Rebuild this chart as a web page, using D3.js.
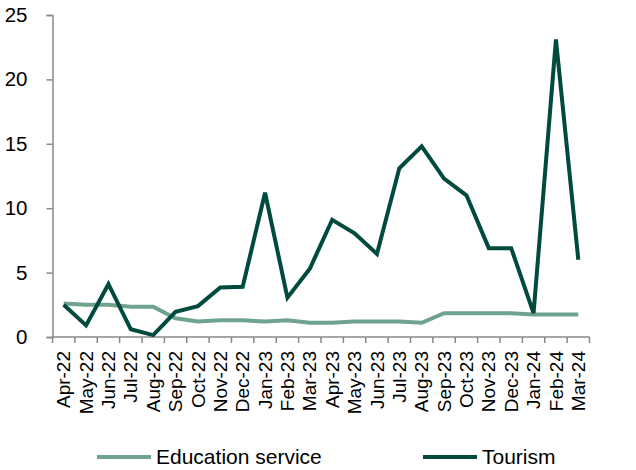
<!DOCTYPE html>
<html>
<head>
<meta charset="utf-8">
<script src="https://cdn.jsdelivr.net/npm/d3@7"></script>
<style>
	body { margin: 0; background: #fff; }
	text { font-family: "Liberation Sans", Arial, sans-serif; fill: #000; }
</style>
</head>
<body>
<div id="chart"></div>
<script>
// months on the category axis
var months = ["Apr-22", "May-22", "Jun-22", "Jul-22", "Aug-22", "Sep-22", "Oct-22", "Nov-22", "Dec-22",
	"Jan-23", "Feb-23", "Mar-23", "Apr-23", "May-23", "Jun-23", "Jul-23", "Aug-23", "Sep-23", "Oct-23",
	"Nov-23", "Dec-23", "Jan-24", "Feb-24", "Mar-24"];

var education = [2.6, 2.5, 2.5, 2.35, 2.35, 1.45, 1.2, 1.3, 1.3, 1.2, 1.3, 1.1,
	1.1, 1.2, 1.2, 1.2, 1.1, 1.85, 1.85, 1.85, 1.85, 1.75, 1.75, 1.75];

var tourism = [2.5, 0.9, 4.1, 0.6, 0.15, 1.95, 2.4, 3.85, 3.9, 11.2, 3.05, 5.3,
	9.1, 8.05, 6.45, 13.1, 14.8, 12.3, 11.0, 6.9, 6.9, 1.85, 23.1, 6.0];

var yTicks = [0, 5, 10, 15, 20, 25];

var width = 636,
	height = 470;

var svg = d3.select("#chart")
	.append("svg")
	.attr("width", width)
	.attr("height", height);

var x = d3.scaleBand()
	.domain(months)
	.range([52.5, 589.5])
	.padding(0);

var y = d3.scaleLinear()
	.domain([0, 25])
	.range([337, 15]);

var axisColor = "#898989";

// y axis
var yAxis = svg.append("g")
	.attr("transform", "translate(52.5,0)")
	.call(d3.axisLeft(y).tickValues(yTicks).tickSize(6).tickPadding(19).tickFormat(d3.format("d")));
yAxis.select(".domain").attr("stroke", axisColor).attr("stroke-width", 1.5);
yAxis.selectAll(".tick line").attr("stroke", axisColor).attr("stroke-width", 1.5);
yAxis.selectAll(".tick text")
	.style("font-size", "20.5px")
	.style("font-family", "'Liberation Sans', Arial, sans-serif")
	.attr("fill", "#000");

// x axis line and ticks between categories
svg.append("line")
	.attr("x1", x.range()[0])
	.attr("x2", x.range()[1])
	.attr("y1", y(0))
	.attr("y2", y(0))
	.attr("stroke", axisColor)
	.attr("stroke-width", 1.5);

var tickPos = months.map(function (m) { return x(m); }).concat([x.range()[1]]);
svg.selectAll("line.xtick")
	.data(tickPos)
	.enter()
	.append("line")
	.attr("class", "xtick")
	.attr("x1", function (d) { return d; })
	.attr("x2", function (d) { return d; })
	.attr("y1", y(0))
	.attr("y2", y(0) + 6)
	.attr("stroke", axisColor)
	.attr("stroke-width", 1.5);

// rotated month labels
svg.selectAll("text.xlabel")
	.data(months)
	.enter()
	.append("text")
	.attr("class", "xlabel")
	.attr("transform", function (d) {
		return "translate(" + (x(d) + x.bandwidth() / 2) + "," + (y(0) + 14) + ") rotate(-90)";
	})
	.attr("text-anchor", "end")
	.attr("dy", "0.35em")
	.style("font-size", "19px")
	.text(function (d) { return d; });

var line = d3.line()
	.x(function (d, i) { return x(months[i]) + x.bandwidth() / 2; })
	.y(function (d) { return y(d); });

var series = [
	{ name: "Education service", values: education, color: "#70a38e" },
	{ name: "Tourism", values: tourism, color: "#004a3e" }
];

svg.selectAll("path.series")
	.data(series)
	.enter()
	.append("path")
	.attr("class", "series")
	.attr("d", function (d) { return line(d.values); })
	.attr("fill", "none")
	.attr("stroke", function (d) { return d.color; })
	.attr("stroke-width", 4)
	.attr("stroke-linejoin", "miter");

// legend
var legendX = [97, 423];
var legend = svg.selectAll("g.legend")
	.data(series)
	.enter()
	.append("g")
	.attr("class", "legend")
	.attr("transform", function (d, i) { return "translate(" + legendX[i] + ",457)"; });

legend.append("line")
	.attr("x1", 0)
	.attr("x2", 54)
	.attr("stroke", function (d) { return d.color; })
	.attr("stroke-width", 4);

legend.append("text")
	.attr("x", 59)
	.attr("dy", "0.35em")
	.style("font-size", "21px")
	.text(function (d) { return d.name; });
</script>
</body>
</html>
